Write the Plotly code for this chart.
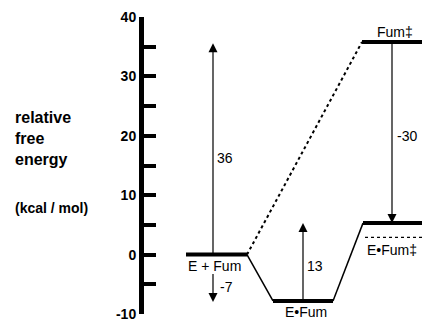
import plotly.graph_objects as go

# Energy levels (kcal/mol) and their horizontal extent along the reaction coordinate
level_names = ["E + Fum", "E•Fum", "E•Fum‡", "Fum‡"]
level_energy = [0, -7.8, 5.3, 35.8]
level_x0 = [42, 129, 219, 218]
level_x1 = [103, 189, 278, 278]

# dashed level (E•Fum‡ alternative)
dashed_energy = 2.9
dashed_x = [221, 278]

# arrows: x, start energy, end energy, label
arrow_x = [69, 69, 159, 248]
arrow_from = [0, -3.0, -7.8, 35.8]
arrow_to = [35.6, -8.0, 5.3, 5.3]
arrow_labels = ["36", "-7", "13", "-30"]
arrow_label_x = [81, 82, 171, 263]
arrow_label_y = [16.2, -5.5, -2.0, 20.0]

ytick_vals = [-10, -5, 0, 5, 10, 15, 20, 25, 30, 35, 40]
ytick_text = ["-10", "", "0", "", "10", "", "20", "", "30", "", "40"]

FAM = "Liberation Sans, Arial, sans-serif"

fig = go.Figure()

# level bars
for name, e, x0, x1 in zip(level_names, level_energy, level_x0, level_x1):
    fig.add_trace(go.Scatter(x=[x0, x1], y=[e, e], mode="lines",
                             line=dict(color="black", width=4), hoverinfo="skip"))

# connecting slopes (solid)
fig.add_trace(go.Scatter(x=[level_x1[0], level_x0[1]], y=[level_energy[0], level_energy[1]],
                         mode="lines", line=dict(color="black", width=1.5)))
fig.add_trace(go.Scatter(x=[level_x1[1], level_x0[2]], y=[level_energy[1], level_energy[2]],
                         mode="lines", line=dict(color="black", width=1.5)))
# dotted path to Fum‡
fig.add_trace(go.Scatter(x=[level_x1[0], level_x0[3]], y=[level_energy[0], level_energy[3]],
                         mode="lines", line=dict(color="black", width=2, dash="dot")))
# dashed level
fig.add_trace(go.Scatter(x=dashed_x, y=[dashed_energy, dashed_energy], mode="lines",
                         line=dict(color="black", width=1.2, dash="3px,3px")))

annotations = []
for x, y0, y1 in zip(arrow_x, arrow_from, arrow_to):
    annotations.append(dict(x=x, y=y1, ax=x, ay=y0, xref="x", yref="y", axref="x", ayref="y",
                            text="", showarrow=True, arrowhead=2, arrowsize=1.5,
                            arrowwidth=1.2, arrowcolor="black", standoff=0, startstandoff=0))
font = dict(family=FAM, size=14, color="black")
for t, x, y in zip(arrow_labels, arrow_label_x, arrow_label_y):
    annotations.append(dict(x=x, y=y, xref="x", yref="y", text=t, showarrow=False, font=font))

# level labels
label_x = [70, 161.5, 248, 251]
label_y = [-2.0, -9.7, 0.8, 37.4]
for t, x, y in zip(level_names, label_x, label_y):
    annotations.append(dict(x=x, y=y, xref="x", yref="y", text=t, showarrow=False, font=font))

# y-axis title block
annotations.append(dict(x=-0.47, y=(318 - 140) / 301, xref="paper", yref="paper",
                        xanchor="left", yanchor="middle", align="left",
                        text="relative<br>free<br>energy", showarrow=False,
                        font=dict(family=FAM, size=16, color="black", weight="bold")))
annotations.append(dict(x=-0.47, y=(318 - 211) / 301, xref="paper", yref="paper",
                        xanchor="left", yanchor="middle", text="(kcal / mol)", showarrow=False,
                        font=dict(family=FAM, size=14, color="black", weight="bold")))

fig.update_layout(
    width=422, height=322,
    margin=dict(l=144, r=0, t=17, b=4),
    paper_bgcolor="white", plot_bgcolor="white",
    showlegend=False,
    annotations=annotations,
    xaxis=dict(range=[0, 278], visible=False, fixedrange=True),
    yaxis=dict(range=[-10, 40], tickvals=ytick_vals, ticktext=ytick_text,
               ticks="inside", ticklen=12, tickwidth=4, tickcolor="black",
               showline=True, linewidth=5, linecolor="black", showgrid=False, zeroline=False,
               tickfont=dict(family=FAM, size=14, color="black", weight="bold"),
               ticklabelstandoff=0, ticklabeloverflow="allow"),
)

fig.write_html("out.html", config={"displayModeBar": False},
               post_script="document.body.style.margin='0';document.body.style.overflow='hidden';")
